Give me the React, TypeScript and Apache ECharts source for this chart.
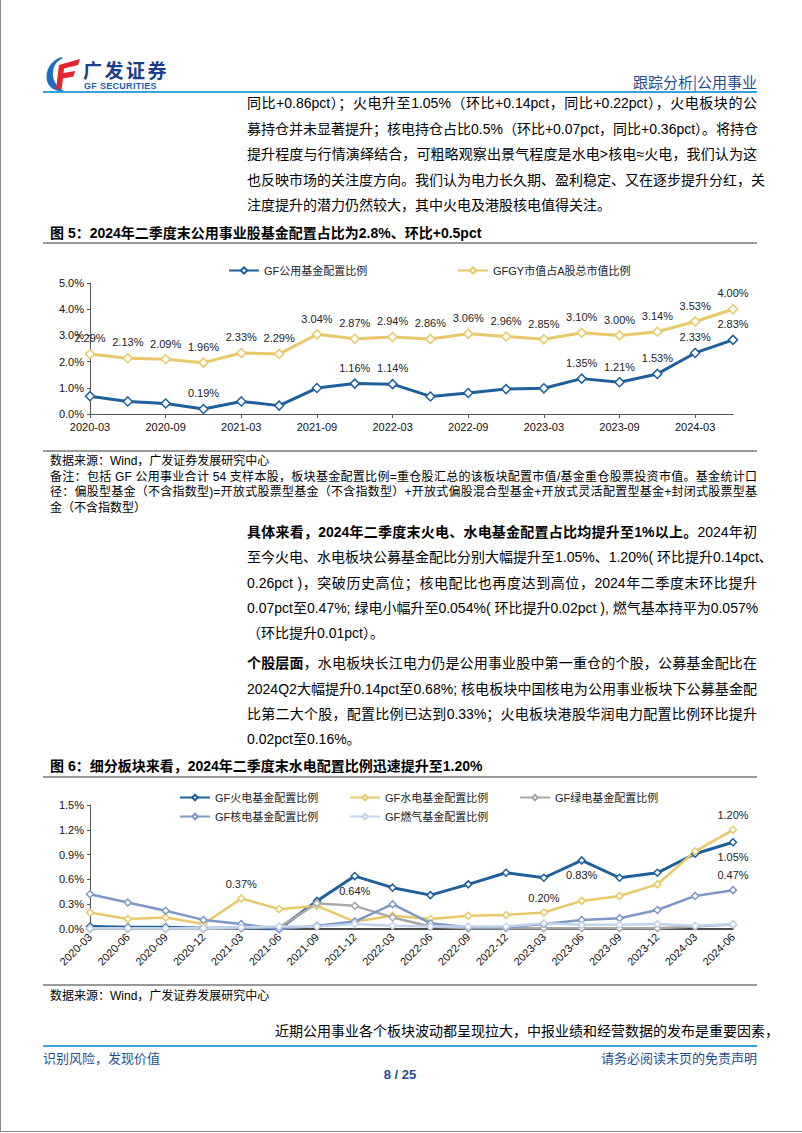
import React, { useEffect, useRef } from "react";
import * as echarts from "echarts";

// ---------- data ----------
const quarters = [
  "2020-03", "2020-06", "2020-09", "2020-12",
  "2021-03", "2021-06", "2021-09", "2021-12",
  "2022-03", "2022-06", "2022-09", "2022-12",
  "2023-03", "2023-06", "2023-09", "2023-12",
  "2024-03", "2024-06",
];

// Figure 5
const gfUtilityFundRatio = [0.68, 0.48, 0.40, 0.19, 0.48, 0.32, 0.99, 1.16, 1.14, 0.67, 0.80, 0.95, 0.98, 1.35, 1.21, 1.53, 2.33, 2.83];
const gfgyMarketCapRatio = [2.29, 2.13, 2.09, 1.96, 2.33, 2.29, 3.04, 2.87, 2.94, 2.86, 3.06, 2.96, 2.85, 3.10, 3.00, 3.14, 3.53, 4.00];
const utilityLabelIdx = [3, 7, 8, 13, 14, 15, 16, 17];

// Figure 6
const thermalRatio = [0.03, 0.02, 0.02, 0.01, 0.01, 0.00, 0.34, 0.64, 0.50, 0.41, 0.54, 0.68, 0.62, 0.83, 0.62, 0.68, 0.91, 1.05];
const hydroRatio = [0.20, 0.12, 0.14, 0.06, 0.37, 0.24, 0.28, 0.09, 0.16, 0.12, 0.16, 0.17, 0.20, 0.34, 0.40, 0.54, 0.94, 1.20];
const greenRatio = [0.00, 0.00, 0.00, 0.00, 0.01, 0.02, 0.31, 0.28, 0.14, 0.03, 0.01, 0.01, 0.01, 0.01, 0.01, 0.01, 0.03, 0.054];
const nuclearRatio = [0.42, 0.32, 0.22, 0.11, 0.06, 0.00, 0.04, 0.09, 0.30, 0.07, 0.02, 0.02, 0.06, 0.11, 0.13, 0.23, 0.40, 0.47];
const gasRatio = [0.01, 0.01, 0.01, 0.01, 0.02, 0.03, 0.03, 0.06, 0.04, 0.03, 0.03, 0.03, 0.07, 0.05, 0.05, 0.06, 0.04, 0.057];
const thermalLabels: Record<number, string> = { 7: "bottom", 13: "bottom", 17: "bottom" };
const hydroLabels: Record<number, string> = { 4: "top", 12: "top", 17: "top" };
const nuclearLabels: Record<number, string> = { 17: "top" };

const fig5Ticks = ["0.0%", "1.0%", "2.0%", "3.0%", "4.0%", "5.0%"];
const fig6Ticks = ["0.0%", "0.3%", "0.6%", "0.9%", "1.2%", "1.5%"];

// ---------- styles ----------
const FONT = '"Liberation Sans", Arial, "Noto Sans CJK SC", sans-serif';
const BLUE = "#1f5f9c";
const GOLD = "#e8c868";
const GRAY = "#a8a8a8";
const SLATE = "#7d98c6";
const LIGHT = "#c2d4ec";
const NAVY = "#1d4f8f";

function EChart({ option, style }: { option: any; style: React.CSSProperties }) {
  const ref = useRef<HTMLDivElement>(null);
  useEffect(() => {
    const chart = echarts.init(ref.current!, null, { renderer: "svg" });
    chart.setOption(option);
    return () => chart.dispose();
  }, []);
  return <div ref={ref} style={style} />;
}

const pct2 = (p: any) => Number(p.value).toFixed(2) + "%";

function lineSeries(name: string, data: number[], color: string, width: number, size: number, labels: Record<number, string>) {
  return {
    name,
    type: "line",
    data: data.map((v, i) =>
      labels[i] ? { value: v, label: { show: true, position: labels[i] } } : { value: v }
    ),
    symbol: "diamond",
    symbolSize: size,
    color,
    lineStyle: { color, width },
    itemStyle: { color: "#fff", borderColor: color, borderWidth: 1.5 },
    label: { show: false, distance: 5, formatter: pct2, fontSize: 11, color: "#222", fontFamily: FONT },
    z: 2,
  };
}

const legendText = { fontSize: 11, color: "#222", fontFamily: FONT };

const fig5Option = {
  animation: false,
  grid: { left: 47, right: 24, top: 33, bottom: 26 },
  legend: [
    { data: ["GF公用基金配置比例"], left: 180, top: 10, itemWidth: 30, itemHeight: 8, textStyle: legendText },
    { data: ["GFGY市值占A股总市值比例"], left: 409, top: 10, itemWidth: 30, itemHeight: 8, textStyle: legendText },
  ],
  xAxis: {
    type: "category",
    data: quarters,
    boundaryGap: false,
    axisLine: { lineStyle: { color: "#555", width: 1 } },
    axisTick: { show: true, interval: 1, length: 4, lineStyle: { color: "#555" } },
    axisLabel: { interval: 1, fontSize: 11, color: "#111", margin: 7, fontFamily: FONT },
    splitLine: { show: false },
  },
  yAxis: {
    type: "value",
    min: 0,
    max: 5,
    interval: 1,
    axisLine: { show: true, lineStyle: { color: "#555", width: 1 } },
    axisTick: { show: true, length: 3, lineStyle: { color: "#555" } },
    axisLabel: { fontSize: 11, color: "#111", margin: 6, fontFamily: FONT, formatter: (v: number) => fig5Ticks[Math.round(v)] },
    splitLine: { show: false },
  },
  series: [
    lineSeries("GF公用基金配置比例", gfUtilityFundRatio, BLUE, 3, 9,
      Object.fromEntries(utilityLabelIdx.map((i) => [i, "top"]))),
    lineSeries("GFGY市值占A股总市值比例", gfgyMarketCapRatio, GOLD, 3, 9,
      Object.fromEntries(gfgyMarketCapRatio.map((_, i) => [i, "top"]))),
  ],
};

const fig6Option = {
  animation: false,
  grid: { left: 47, right: 24, top: 23, bottom: 43 },
  legend: [
    { data: ["GF火电基金配置比例"], left: 131, top: 5, itemWidth: 30, itemHeight: 7, textStyle: legendText },
    { data: ["GF水电基金配置比例"], left: 301, top: 5, itemWidth: 30, itemHeight: 7, textStyle: legendText },
    { data: ["GF绿电基金配置比例"], left: 471, top: 5, itemWidth: 30, itemHeight: 7, textStyle: legendText },
    { data: ["GF核电基金配置比例"], left: 131, top: 24, itemWidth: 30, itemHeight: 7, textStyle: legendText },
    { data: ["GF燃气基金配置比例"], left: 301, top: 24, itemWidth: 30, itemHeight: 7, textStyle: legendText },
  ],
  xAxis: {
    type: "category",
    data: quarters,
    boundaryGap: false,
    axisLine: { lineStyle: { color: "#111", width: 1.5 } },
    axisTick: { show: false },
    axisLabel: { interval: 0, rotate: 45, fontSize: 11, color: "#111", margin: 6, fontFamily: FONT },
    splitLine: { show: false },
  },
  yAxis: {
    type: "value",
    min: 0,
    max: 1.5,
    interval: 0.3,
    axisLine: { show: true, lineStyle: { color: "#555", width: 1 } },
    axisTick: { show: true, length: 3, lineStyle: { color: "#555" } },
    axisLabel: { fontSize: 11, color: "#111", margin: 6, fontFamily: FONT, formatter: (v: number) => fig6Ticks[Math.round(v / 0.3)] },
    splitLine: { show: false },
  },
  series: [
    lineSeries("GF火电基金配置比例", thermalRatio, BLUE, 3, 7, thermalLabels),
    lineSeries("GF水电基金配置比例", hydroRatio, GOLD, 2.5, 7, hydroLabels),
    lineSeries("GF绿电基金配置比例", greenRatio, GRAY, 2.5, 7, {}),
    lineSeries("GF核电基金配置比例", nuclearRatio, SLATE, 2.5, 7, nuclearLabels),
    lineSeries("GF燃气基金配置比例", gasRatio, LIGHT, 2.5, 7, {}),
  ],
};

// ---------- text helpers ----------
function TLine({ y, x = 247, w = 510, size = 14, justify = true, children, color = "#000", weight = 400 }: any) {
  return (
    <div
      style={{
        position: "absolute",
        left: x,
        top: y - 10,
        width: w,
        height: 20,
        lineHeight: "20px",
        fontSize: size,
        color,
        fontWeight: weight,
        textAlign: justify ? "justify" : "left",
        textAlignLast: justify ? "justify" : "left",
        fontFamily: FONT,
        whiteSpace: "nowrap",
      } as React.CSSProperties}
    >
      {children}
    </div>
  );
}

function HRule({ y, x = 43, w = 714, h = 1, color = "#9a9a9a" }: any) {
  return <div style={{ position: "absolute", left: x, top: y, width: w, height: h, background: color }} />;
}

export default function App() {
  return (
    <div
      style={{
        position: "absolute",
        left: 0,
        top: 0,
        width: 802,
        height: 1133,
        background: "#fff",
        overflow: "hidden",
        fontFamily: FONT,
      }}
    >
      {/* page frame */}
      <div style={{ position: "absolute", left: 0, top: 0, width: 801, height: 1131, borderLeft: "1px solid #8a8a8a", borderBottom: "1px solid #8a8a8a" }} />

      {/* header logo */}
      <svg style={{ position: "absolute", left: 44, top: 56 }} width="40" height="36" viewBox="0 0 40 36">
        <path d="M17 1 C6 5 1 15 3 25 C5 32 12 36 20 35 C12 31 8 23 9 15 C10 9 13 5 19 2 Z" fill="#1c6fc4" />
        <path d="M15 9 L36 3 L34 9 L20 12.5 L19.5 17 L31 15 L29.5 20.5 L19 22.5 L17.5 33 L12 33 Z" fill="#e3262d" />
      </svg>
      <div style={{ position: "absolute", left: 83, top: 60, fontSize: 19, fontWeight: 700, color: "#1a3d8c", lineHeight: "20px", letterSpacing: 2.5, fontFamily: '"Noto Sans CJK SC", sans-serif' }}>广发证券</div>
      <div style={{ position: "absolute", left: 84, top: 82, fontSize: 9, fontWeight: 700, color: "#1a5fae", lineHeight: "9px", letterSpacing: 0.3 }}>GF SECURITIES</div>
      <div style={{ position: "absolute", right: 802 - 757, top: 73, fontSize: 15, color: NAVY, lineHeight: "18px", fontFamily: '"Noto Sans CJK SC", sans-serif' }}>跟踪分析|公用事业</div>
      <HRule y={91} h={2} color="#36a3dc" />

      {/* paragraph 1 */}
      <TLine y={103}>同比+0.86pct）；火电升至1.05%（环比+0.14pct，同比+0.22pct），火电板块的公</TLine>
      <TLine y={129}>募持仓并未显著提升；核电持仓占比0.5%（环比+0.07pct，同比+0.36pct）。将持仓</TLine>
      <TLine y={154}>提升程度与行情演绎结合，可粗略观察出景气程度是水电&gt;核电≈火电，我们认为这</TLine>
      <TLine y={180}>也反映市场的关注度方向。我们认为电力长久期、盈利稳定、又在逐步提升分红，关</TLine>
      <TLine y={205} justify={false}>注度提升的潜力仍然较大，其中火电及港股核电值得关注。</TLine>

      {/* figure 5 */}
      <TLine y={233} x={50} w={700} justify={false} weight={700}>图 5：2024年二季度末公用事业股基金配置占比为2.8%、环比+0.5pct</TLine>
      <HRule y={242} h={1.5} />
      <EChart option={fig5Option} style={{ position: "absolute", left: 43, top: 250, width: 714, height: 190 }} />
      <HRule y={450} h={1.5} />
      <TLine y={461} x={50} w={707} size={12} justify={false}>数据来源：Wind，广发证券发展研究中心</TLine>
      <TLine y={477} x={50} w={707} size={12}>备注：包括 GF 公用事业合计 54 支样本股，板块基金配置比例=重仓股汇总的该板块配置市值/基金重仓股票投资市值。基金统计口</TLine>
      <TLine y={492} x={50} w={707} size={12}>径：偏股型基金（不含指数型)=开放式股票型基金（不含指数型）+开放式偏股混合型基金+开放式灵活配置型基金+封闭式股票型基</TLine>
      <TLine y={508} x={50} w={707} size={12} justify={false}>金（不含指数型）</TLine>

      {/* paragraph 2 */}
      <TLine y={532}><b>具体来看，2024年二季度末火电、水电基金配置占比均提升至1%以上。</b>2024年初</TLine>
      <TLine y={557}>至今火电、水电板块公募基金配比分别大幅提升至1.05%、1.20%( 环比提升0.14pct、</TLine>
      <TLine y={583}>0.26pct )，突破历史高位；核电配比也再度达到高位，2024年二季度末环比提升</TLine>
      <TLine y={608}>0.07pct至0.47%; 绿电小幅升至0.054%( 环比提升0.02pct ), 燃气基本持平为0.057%</TLine>
      <TLine y={633} justify={false}>（环比提升0.01pct）。</TLine>

      {/* paragraph 3 */}
      <TLine y={663}><b>个股层面</b>，水电板块长江电力仍是公用事业股中第一重仓的个股，公募基金配比在</TLine>
      <TLine y={689}>2024Q2大幅提升0.14pct至0.68%; 核电板块中国核电为公用事业板块下公募基金配</TLine>
      <TLine y={714}>比第二大个股，配置比例已达到0.33%；火电板块港股华润电力配置比例环比提升</TLine>
      <TLine y={739} justify={false}>0.02pct至0.16%。</TLine>

      {/* figure 6 */}
      <TLine y={766} x={50} w={700} justify={false} weight={700}>图 6：细分板块来看，2024年二季度末水电配置比例迅速提升至1.20%</TLine>
      <HRule y={776} h={1.5} />
      <EChart option={fig6Option} style={{ position: "absolute", left: 43, top: 782, width: 714, height: 190 }} />
      <HRule y={984} h={1.5} />
      <TLine y={996} x={50} w={707} size={12} justify={false}>数据来源：Wind，广发证券发展研究中心</TLine>

      <TLine y={1031} x={275} w={482}>近期公用事业各个板块波动都呈现拉大，中报业绩和经营数据的发布是重要因素，</TLine>

      {/* footer */}
      <HRule y={1045} h={2} color="#36a3dc" />
      <div style={{ position: "absolute", left: 43, top: 1049, fontSize: 13, color: NAVY, lineHeight: "18px", fontFamily: '"Noto Sans CJK SC", sans-serif' }}>识别风险，发现价值</div>
      <div style={{ position: "absolute", right: 802 - 757, top: 1049, fontSize: 13, color: NAVY, lineHeight: "18px", fontFamily: '"Noto Sans CJK SC", sans-serif' }}>请务必阅读末页的免责声明</div>
      <div style={{ position: "absolute", left: 350, width: 100, textAlign: "center", top: 1066, fontSize: 13, fontWeight: 700, color: NAVY, lineHeight: "18px" }}>8 / 25</div>
    </div>
  );
}
